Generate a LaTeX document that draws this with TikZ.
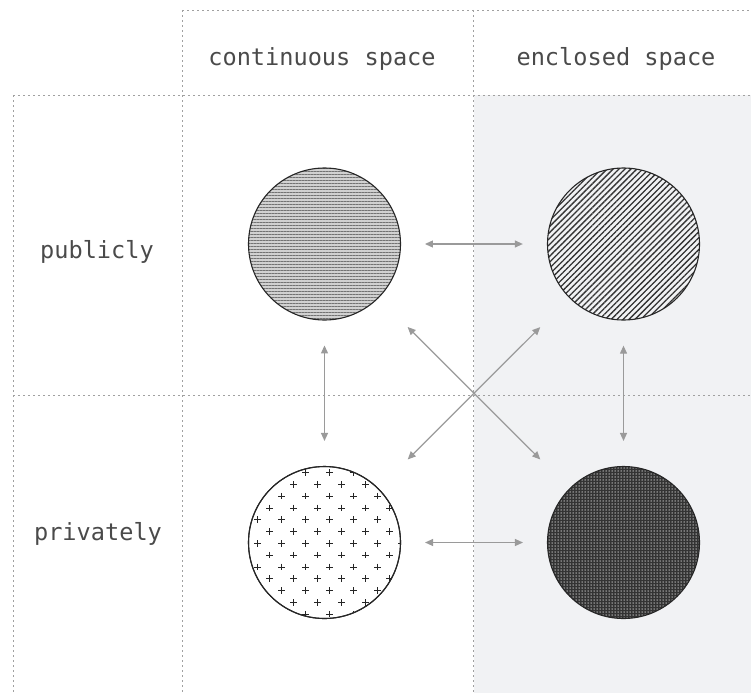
\documentclass[tikz,border=0pt]{standalone}
\usepackage{fontspec}
\newfontfamily\lblfont{DejaVu Sans Mono}
\usetikzlibrary{arrows.meta,patterns.meta}
\definecolor{bgshade}{HTML}{F1F2F4}
\definecolor{txt}{HTML}{4A4A4A}
\definecolor{arr}{HTML}{9A9A9A}
\definecolor{grid}{HTML}{A0A0A0}
\tikzset{
  gridline/.style={draw=grid, line width=0.7pt, dash pattern=on 2pt off 3pt},
  blob/.style={circle, draw=black!85, line width=1.1pt, minimum size=152pt, inner sep=0pt},
  lbl/.style={font=\lblfont\fontsize{23.6}{26}\selectfont, text=txt, anchor=base, inner sep=0pt},
  link/.style={draw=arr, line width=1.2pt, {Triangle[length=8pt,width=7pt]}-{Triangle[length=8pt,width=7pt]}},
  plusline/.style={draw=black!85, line width=0.8pt}
}
\begin{document}
\begin{tikzpicture}[x=1pt,y=-1pt]
\useasboundingbox (0,0) rectangle (751,693);
\fill[bgshade] (473.5,95) rectangle (751,693);
% grid
\draw[gridline] (182,10) -- (751,10);
\draw[gridline] (13,95) -- (751,95);
\draw[gridline] (13,395) -- (751,395);
\draw[gridline] (13,95) -- (13,693);
\draw[gridline] (182,10) -- (182,693);
\draw[gridline] (473.5,10) -- (473.5,693);
% labels
\node[lbl] (hc) at (322,66) {continuous space};
\node[lbl] (he) at (616,66) {enclosed space};
\node[lbl] (rp) at (97,258) {publicly};
\node[lbl] (rv) at (98,540) {privately};
% circles
\node[blob, preaction={fill=black!18}, pattern={Lines[angle=0,distance=3pt,line width=0.9pt]}, pattern color=black!55] (tl) at (324.5,244) {};
\node[blob, fill=bgshade, pattern={Lines[angle=45,distance=4.2pt,line width=1.3pt]}, pattern color=black!80] (tr) at (623.5,244) {};
\node[blob, fill=white] (bl) at (324.5,542.5) {};
\node[blob, preaction={fill=black!80}, pattern={Dots[distance=3pt,radius=0.75pt]}, pattern color=black!25] (br) at (623.5,542.5) {};
% plus pattern in bl
\begin{scope}
\clip (324.5,542.5) circle (76pt);
\foreach \j in {-7,...,7}{
  \pgfmathsetmacro\off{12*mod(\j+8,2)}
  \foreach \k in {-4,...,3}{
    \pgfmathsetmacro\px{329.3+24*\k+\off}
    \pgfmathsetmacro\py{543.3+11.8*\j}
    \draw[plusline] (\px-3.3,\py) -- (\px+3.3,\py) (\px,\py-3.3) -- (\px,\py+3.3);
  }
}
\end{scope}
\node[blob, fill=none] (blo) at (324.5,542.5) {};
% connectors
\draw[link, shorten <=24pt, shorten >=24pt] (tl) -- (tr);
\draw[link, shorten <=24pt, shorten >=24pt] (bl) -- (br);
\draw[link, shorten <=25pt, shorten >=25pt] (tl) -- (bl);
\draw[link, shorten <=25pt, shorten >=25pt] (tr) -- (br);
\draw[link, shorten <=41pt, shorten >=41pt] (tl) -- (br);
\draw[link, shorten <=41pt, shorten >=41pt] (tr) -- (bl);
\end{tikzpicture}
\end{document}
